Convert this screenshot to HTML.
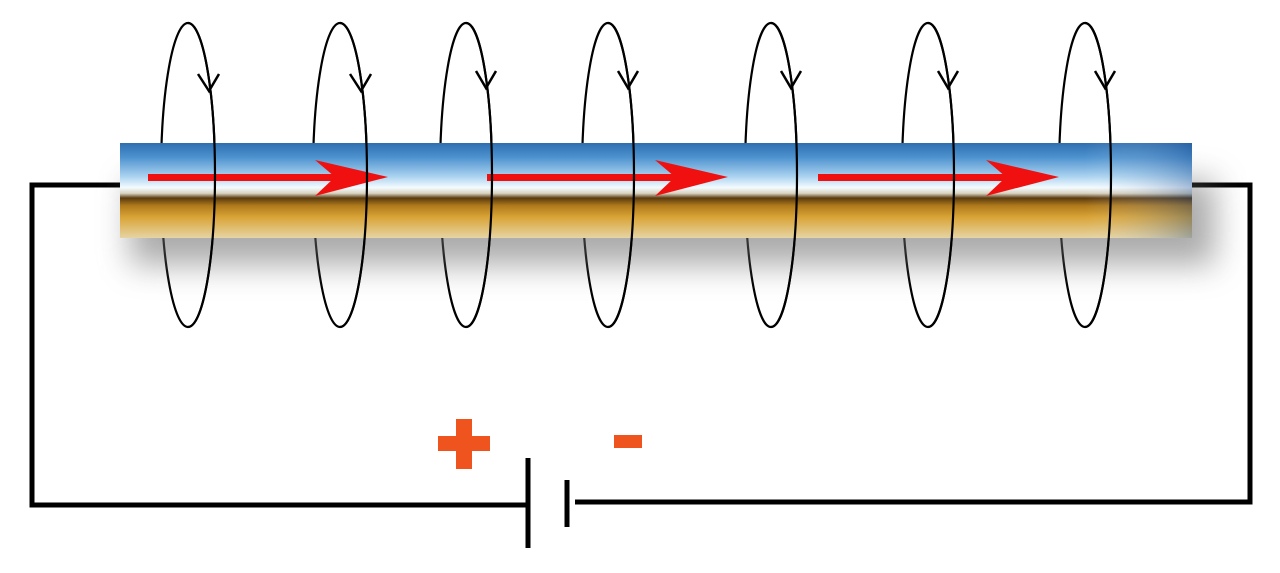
<!DOCTYPE html>
<html><head><meta charset="utf-8"><style>html,body{margin:0;padding:0;background:#fff;width:1280px;height:573px;overflow:hidden}</style></head>
<body>
<svg width="1280" height="573" viewBox="0 0 1280 573" xmlns="http://www.w3.org/2000/svg">
<defs>
<linearGradient id="rod" x1="0" y1="0" x2="0" y2="1">
<stop offset="0" stop-color="#2f6fb0"/>
<stop offset="0.15" stop-color="#4d92cf"/>
<stop offset="0.35" stop-color="#a9d2ef"/>
<stop offset="0.47" stop-color="#f4fbff"/>
<stop offset="0.53" stop-color="#d8d2c0"/>
<stop offset="0.58" stop-color="#5a3a10"/>
<stop offset="0.66" stop-color="#b07a1c"/>
<stop offset="0.78" stop-color="#d9a436"/>
<stop offset="1" stop-color="#e6d4a4"/>
</linearGradient>
<linearGradient id="endg" x1="0" y1="0" x2="1" y2="0">
<stop offset="0" stop-color="#fff" stop-opacity="0"/>
<stop offset="0.9" stop-color="#fff" stop-opacity="0"/>
<stop offset="1" stop-color="#1a4a90" stop-opacity="0.35"/>
</linearGradient>
<filter id="blur" x="-10%" y="-100%" width="120%" height="300%"><feGaussianBlur stdDeviation="16"/></filter>
</defs>
<polyline points="120,185 32,185 32,505 527,505" fill="none" stroke="#000" stroke-width="5"/>
<polyline points="1192,185 1250,185 1250,502 575,502" fill="none" stroke="#000" stroke-width="5"/>
<line x1="528" y1="458" x2="528" y2="548" stroke="#000" stroke-width="5"/>
<line x1="567" y1="480" x2="567" y2="527" stroke="#000" stroke-width="5"/>
<rect x="438" y="436" width="52" height="15" fill="#f0541e"/>
<rect x="456" y="419" width="16" height="50" fill="#f0541e"/>
<rect x="614" y="435" width="28" height="13" fill="#f0541e"/>
<g fill="none" stroke="#000" stroke-width="2.2">
<ellipse cx="188" cy="175" rx="27" ry="152"/>
<ellipse cx="340" cy="175" rx="27" ry="152"/>
<ellipse cx="466" cy="175" rx="26" ry="152"/>
<ellipse cx="608" cy="175" rx="26" ry="152"/>
<ellipse cx="771" cy="175" rx="26" ry="152"/>
<ellipse cx="928" cy="175" rx="26" ry="152"/>
<ellipse cx="1085" cy="175" rx="26" ry="152"/>
</g>
<rect x="130" y="180" width="1085" height="85" fill="#666" opacity="0.55" filter="url(#blur)"/>
<rect x="120" y="143" width="1072" height="95" fill="url(#rod)"/>
<rect x="120" y="143" width="1072" height="95" fill="url(#endg)"/>
<g fill="#f01010">
<rect x="148" y="174" width="200" height="7"/>
<polygon points="315,160 388,177 315,196 335,177"/>
<rect x="487" y="174" width="200" height="7"/>
<polygon points="655,160 728,177 655,196 675,177"/>
<rect x="818" y="174" width="200" height="7"/>
<polygon points="986,160 1059,177 986,196 1006,177"/>
</g>
<g fill="none" stroke="#000" stroke-width="2.2">
<path d="M188,23 A27,152 0 0,1 188,327"/>
<path d="M340,23 A27,152 0 0,1 340,327"/>
<path d="M466,23 A26,152 0 0,1 466,327"/>
<path d="M608,23 A26,152 0 0,1 608,327"/>
<path d="M771,23 A26,152 0 0,1 771,327"/>
<path d="M928,23 A26,152 0 0,1 928,327"/>
<path d="M1085,23 A26,152 0 0,1 1085,327"/>
</g>
<g fill="none" stroke="#000" stroke-width="2.5">
<polyline points="198,74 209,91 219,74"/>
<polyline points="350,74 361,91 371,74"/>
<polyline points="476,71 486,88 496,71"/>
<polyline points="618,71 628,88 638,71"/>
<polyline points="781,71 791,88 801,71"/>
<polyline points="938,71 948,88 958,71"/>
<polyline points="1095,71 1105,88 1115,71"/>
</g>
</svg>
</body></html>
